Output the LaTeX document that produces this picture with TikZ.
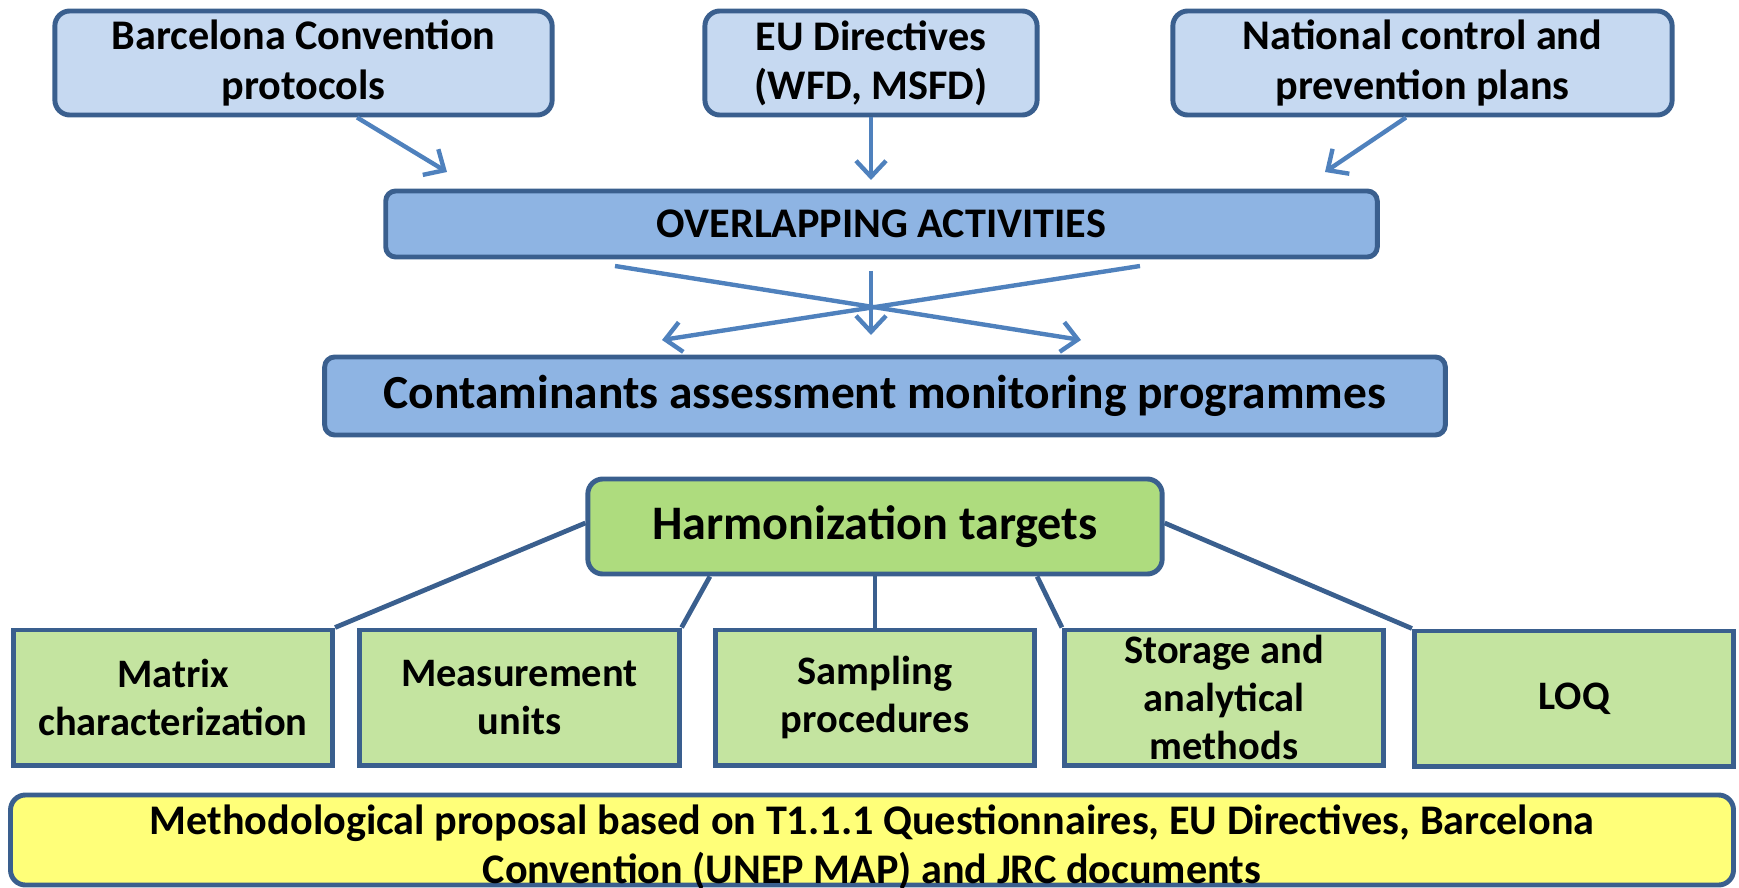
\documentclass[tikz,border=0pt]{standalone}
\usepackage{fontspec}
\setmainfont{Carlito}
\usetikzlibrary{arrows.meta}
\definecolor{boxline}{HTML}{3A5F8E}
\definecolor{paleblue}{HTML}{C6D9F1}
\definecolor{midblue}{HTML}{8EB4E3}
\definecolor{arrowblue}{HTML}{4F81BD}
\definecolor{harmgreen}{HTML}{AEDC7E}
\definecolor{palegreen}{HTML}{C4E4A0}
\definecolor{paleyellow}{HTML}{FFFF79}
\tikzset{
	sourcebox/.style={draw=boxline, line width=1.4pt, fill=paleblue, rounded corners=0.15cm, minimum width=#1, minimum height=1.04cm, inner sep=0pt, align=center, font=\bfseries\fontsize{12}{14}\selectfont},
	bandbox/.style={draw=boxline, line width=1.4pt, fill=midblue, rounded corners=0.1cm, minimum width=#1, inner sep=0pt, align=center},
	targetbox/.style={draw=boxline, line width=1.4pt, fill=palegreen, minimum width=3.19cm, minimum height=1.35cm, inner sep=0pt, align=center, font=\bfseries\fontsize{11.5}{13.6}\selectfont},
	flow/.style={draw=arrowblue, line width=1.25pt, -{Straight Barb[length=1.6mm,width=3mm]}},
	link/.style={draw=boxline, line width=1.35pt}
}
\begin{document}
\begin{tikzpicture}[x=0.01cm, y=-0.01cm]
	\useasboundingbox (0,0) rectangle (1739,888);

	\node[sourcebox=4.97cm] (barcelona) at (303.5,63) {Barcelona Convention\\protocols};
	\node[sourcebox=3.32cm] (eudir) at (871,63) {EU Directives\\(WFD, MSFD)};
	\node[sourcebox=4.99cm] (national) at (1422.5,63) {National control and\\prevention plans};

	\node[bandbox=9.91cm, minimum height=0.66cm, font=\bfseries\fontsize{12}{14}\selectfont] (overlap) at (881.5,224) {OVERLAPPING ACTIVITIES};
	\node[bandbox=11.2cm, minimum height=0.78cm, font=\bfseries\fontsize{13.5}{16}\selectfont] (programmes) at (885,396) {Contaminants assessment monitoring programmes};

	\coordinate (tipa) at (447,172);
	\coordinate (tipb) at (871,180);
	\coordinate (tipc) at (1325,172);
	\draw[flow] ([xshift=0.535cm]barcelona.south) -- (tipa);
	\draw[flow] (eudir.south) -- (tipb);
	\draw[flow] ([xshift=-0.165cm]national.south) -- (tipc);

	\coordinate (crossla) at (615,266);
	\coordinate (crossra) at (1140,266);
	\coordinate (crossma) at (871,271);
	\coordinate (crosslb) at (662,340);
	\coordinate (crossrb) at (1081,340);
	\coordinate (crossmb) at (871,335);
	\draw[flow] (crossla) -- (crossrb);
	\draw[flow] (crossra) -- (crosslb);
	\draw[flow] (crossma) -- (crossmb);

	\node[draw=boxline, line width=1.4pt, fill=harmgreen, rounded corners=0.15cm, minimum width=5.74cm, minimum height=0.95cm, inner sep=0pt, font=\bfseries\fontsize{13.7}{16}\selectfont] (harm) at (875,526.5) {Harmonization targets};

	\node[targetbox] (matrix) at (173,697.5) {Matrix\\characterization};
	\node[targetbox] (units) at (519.5,697.5) {Measurement\\units};
	\node[targetbox] (sampling) at (875,697.5) {Sampling\\procedures};
	\node[targetbox] (storage) at (1224,697.5) {Storage and\\analytical\\methods};
	\node[targetbox] (loq) at (1574,698.5) {LOQ};

	\draw[link] ([yshift=0.035cm]harm.west) -- (matrix.north east);
	\draw[link] ([xshift=-1.65cm]harm.south) -- (units.north east);
	\draw[link] (harm.south) -- (sampling.north);
	\draw[link] ([xshift=1.62cm]harm.south) -- (storage.north west);
	\draw[link] ([yshift=0.035cm]harm.east) -- (loq.north west);

	\node[draw=boxline, line width=1.4pt, fill=paleyellow, rounded corners=0.15cm, minimum width=17.22cm, minimum height=0.9cm, inner sep=0pt] (proposal) at (872,840) {};
	\node[align=center, inner sep=0pt, font=\bfseries\fontsize{12}{14}\selectfont] (proposaltext) at (872,847) {Methodological proposal based on T1.1.1 Questionnaires, EU Directives, Barcelona\\Convention (UNEP MAP) and JRC documents};
\end{tikzpicture}
\end{document}
